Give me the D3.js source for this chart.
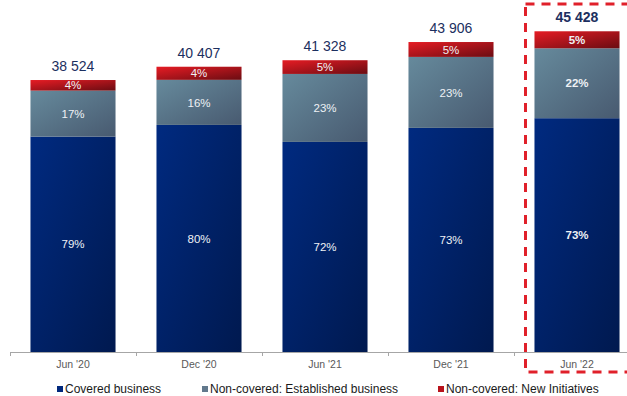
<!DOCTYPE html>
<html>
<head>
<meta charset="utf-8">
<script src="https://cdn.jsdelivr.net/npm/d3@7"></script>
<style>
  html, body { margin: 0; padding: 0; background: #fff; }
  svg { display: block; font-family: "Liberation Sans", Arial, sans-serif; }
</style>
</head>
<body>
<svg id="chart" width="627" height="396"></svg>
<script>
// ---- data ----
const categories = ["Jun '20", "Dec '20", "Jun '21", "Dec '21", "Jun '22"];
const totals = [38524, 40407, 41328, 43906, 45428];
const totalLabels = ["38 524", "40 407", "41 328", "43 906", "45 428"];
// estimated shares (%)
const coveredShare = [79.2, 79.6, 72.0, 72.3, 72.9];
const establishedShare = [16.9, 15.8, 23.3, 22.9, 21.8];
const newInitShare = [3.9, 4.6, 4.7, 4.8, 5.3];
// printed percentage labels
const coveredLabels = ["79%", "80%", "72%", "73%", "73%"];
const establishedLabels = ["17%", "16%", "23%", "23%", "22%"];
const newInitLabels = ["4%", "4%", "5%", "5%", "5%"];
const seriesNames = ["Covered business", "Non-covered: Established business", "Non-covered: New Initiatives"];
const highlighted = "Jun '22";

// ---- setup ----
const svg = d3.select("#chart");
const baseY = 352;
const x = d3.scaleBand().domain(categories).range([10, 640]).paddingInner(0.325).paddingOuter(0.1625);
const y = d3.scaleLinear().domain([0, 50000]).range([baseY, -1]);

const defs = svg.append("defs");
const grads = [
  {id: "gBlue", c0: "#002a80", c1: "#00194f"},
  {id: "gGrey", c0: "#668a9c", c1: "#485a70"},
  {id: "gRed",  c0: "#e61c24", c1: "#6a0c12"}
];
grads.forEach(g => {
  const lg = defs.append("linearGradient").attr("id", g.id)
    .attr("x1", 0).attr("y1", 0).attr("x2", 1).attr("y2", 1);
  lg.append("stop").attr("offset", "0%").attr("stop-color", g.c0);
  lg.append("stop").attr("offset", "100%").attr("stop-color", g.c1);
});

const shares = [coveredShare, establishedShare, newInitShare];
const labels = [coveredLabels, establishedLabels, newInitLabels];
const fills = ["url(#gBlue)", "url(#gGrey)", "url(#gRed)"];

// build stacked table in absolute values
const table = categories.map((c, i) => {
  const row = {cat: c};
  seriesNames.forEach((s, k) => { row[s] = totals[i] * shares[k][i] / 100; });
  return row;
});
const stacked = d3.stack().keys(seriesNames)(table);

// ---- bars ----
stacked.forEach((layer, k) => {
  const g = svg.append("g");
  g.selectAll("rect").data(layer).enter().append("rect")
    .attr("x", d => x(d.data.cat))
    .attr("width", x.bandwidth())
    .attr("y", d => y(d[1]))
    .attr("height", d => y(d[0]) - y(d[1]))
    .attr("fill", fills[k]);
  g.selectAll("text").data(layer).enter().append("text")
    .attr("x", d => x(d.data.cat) + x.bandwidth() / 2)
    .attr("y", d => (y(d[0]) + y(d[1])) / 2)
    .attr("dy", "0.36em")
    .attr("text-anchor", "middle")
    .attr("font-size", "11.5px")
    .attr("font-weight", d => d.data.cat === highlighted ? "bold" : "normal")
    .attr("fill", "#eef1f5")
    .text((d, i) => labels[k][i]);
});

// ---- totals ----
svg.append("g").selectAll("text").data(categories).enter().append("text")
  .attr("x", d => x(d) + x.bandwidth() / 2)
  .attr("y", (d, i) => y(totals[i]) - 9)
  .attr("text-anchor", "middle")
  .attr("font-size", "14px")
  .attr("font-weight", d => d === highlighted ? "bold" : "normal")
  .attr("fill", "#1c2f60")
  .text((d, i) => totalLabels[i]);

// ---- axis ----
const axis = d3.axisBottom(x).tickSize(0).tickPadding(9);
const ag = svg.append("g").attr("transform", `translate(0,${baseY})`).call(axis);
ag.select(".domain").remove();
ag.selectAll("text").attr("font-size", "10.5px").attr("fill", "#595959")
  .attr("font-family", "Liberation Sans, Arial, sans-serif");
svg.append("line").attr("x1", 10).attr("x2", 627).attr("y1", baseY + 0.5).attr("y2", baseY + 0.5)
  .attr("stroke", "#a6a6a6").attr("stroke-width", 1);
const boundaries = categories.map(c => x(c) - x.step() * x.paddingInner() / 2);
svg.append("g").selectAll("line").data(boundaries).enter().append("line")
  .attr("x1", d => Math.round(d) + 0.5).attr("x2", d => Math.round(d) + 0.5)
  .attr("y1", baseY).attr("y2", baseY + 4)
  .attr("stroke", "#a6a6a6").attr("stroke-width", 1);

// ---- highlight box ----
const hx = x(highlighted) - x.step() * x.paddingInner() / 2;
svg.append("rect")
  .attr("x", hx + 11.5).attr("y", 4)
  .attr("width", 640 - hx).attr("height", 368)
  .attr("fill", "none").attr("stroke", "#e0202a").attr("stroke-width", 3)
  .attr("stroke-dasharray", "9,7");

// ---- legend ----
const legendX = [57, 202, 438];
const legendFill = ["#00287c", "#62798d", "#b8121b"];
const lg = svg.append("g");
seriesNames.forEach((s, k) => {
  lg.append("rect").attr("x", legendX[k]).attr("y", 386).attr("width", 6).attr("height", 6)
    .attr("fill", legendFill[k]);
  lg.append("text").attr("x", legendX[k] + 8).attr("y", 392.5)
    .attr("font-size", "12px").attr("fill", "#1a1a1a").text(s);
});
</script>
</body>
</html>
